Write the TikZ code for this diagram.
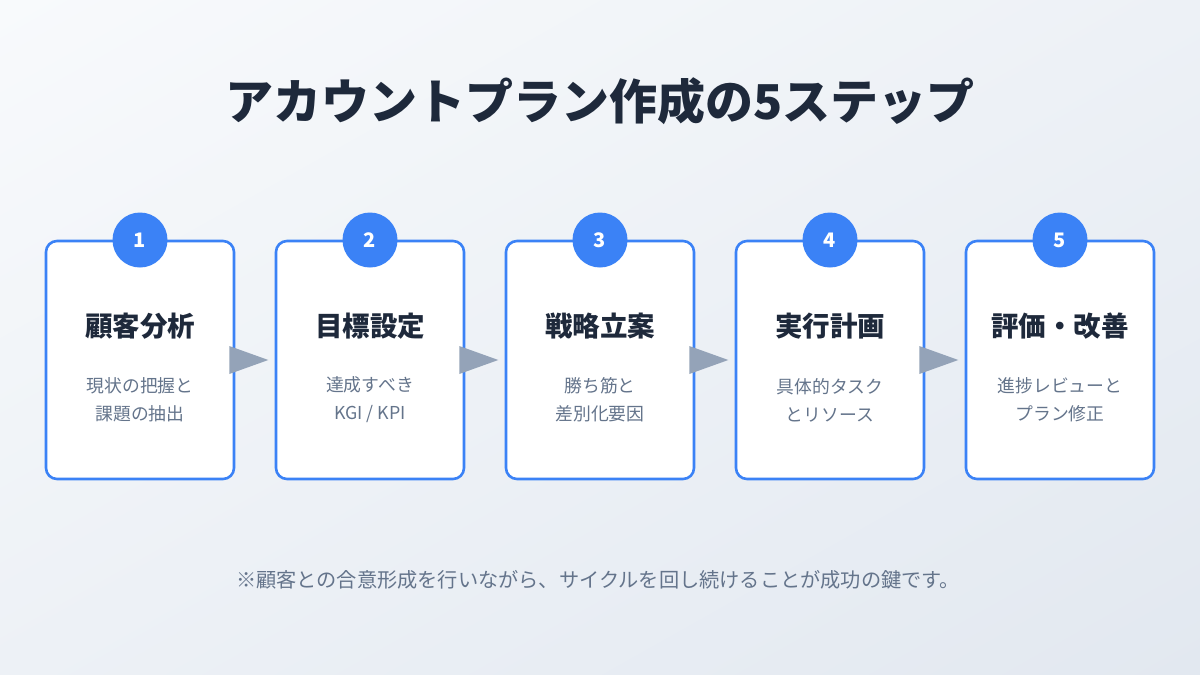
\documentclass[tikz,border=0pt]{standalone}
\usepackage{fontspec}
\newfontfamily\jp{Noto Sans CJK JP}
\usetikzlibrary{shadings}
\definecolor{bgA}{HTML}{F8FAFC}
\definecolor{bgB}{HTML}{E2E8F0}
\definecolor{bgM}{HTML}{EDF1F6}
\definecolor{cardblue}{HTML}{3B82F6}
\definecolor{titlecol}{HTML}{1E293B}
\definecolor{desccol}{HTML}{64748B}
\definecolor{arrowcol}{HTML}{94A3B8}
\tikzset{
  card/.style={draw=cardblue, line width=2.6pt, fill=white, rounded corners=11pt,
    minimum width=188pt, minimum height=238pt, inner sep=0pt},
  badge/.style={circle, fill=cardblue, minimum size=55pt, inner sep=0pt,
    text=white, font=\jp\bfseries\fontsize{20}{24}\selectfont},
  cardtitle/.style={text=titlecol, font=\jp\bfseries\fontsize{27.5}{32}\selectfont, inner sep=0pt},
  carddesc/.style={text=desccol, font=\jp\fontsize{17.8}{28}\selectfont, align=center, inner sep=0pt},
  flowarrow/.style={fill=arrowcol, draw=none},
}
\begin{document}
\begin{tikzpicture}[x=1pt,y=-1pt]
\useasboundingbox (0,0) rectangle (1200,675);
\shade[upper left=bgA, lower right=bgB, upper right=bgM, lower left=bgM] (0,0) rectangle (1200,675);
\node[text=titlecol, font=\jp\bfseries\fontsize{48}{56}\selectfont, inner sep=0pt] (title) at (600,101) {アカウントプラン作成の5ステップ};
\foreach \i/\t/\da/\db in {1/顧客分析/現状の把握と/課題の抽出,
  2/目標設定/達成すべき/{KGI / KPI},
  3/戦略立案/勝ち筋と/差別化要因,
  4/実行計画/具体的タスク/とリソース,
  5/評価・改善/進捗レビューと/プラン修正}{
  \pgfmathsetmacro{\cx}{140+230*(\i-1)}
  \node[card] (card\i) at (\cx,360) {};
  \node[badge] (num\i) at (\cx,240) {\i};
  \node[cardtitle] (ttl\i) at (\cx,326) {\t};
  \node[carddesc] (desc\i) at (\cx,400) {\da\\\db};
}
\foreach \i/\j in {1/2,2/3,3/4,4/5}{
  \coordinate (a\i) at ([xshift=-6pt]card\i.east);
  \fill[flowarrow] ([yshift=-14pt]a\i) -- ([yshift=14pt]a\i) -- ([xshift=39pt]a\i) -- cycle;
}
\node[text=desccol, font=\jp\fontsize{20.2}{24}\selectfont, inner sep=0pt] (foot) at (598,580) {※顧客との合意形成を行いながら、サイクルを回し続けることが成功の鍵です。};
\end{tikzpicture}
\end{document}
